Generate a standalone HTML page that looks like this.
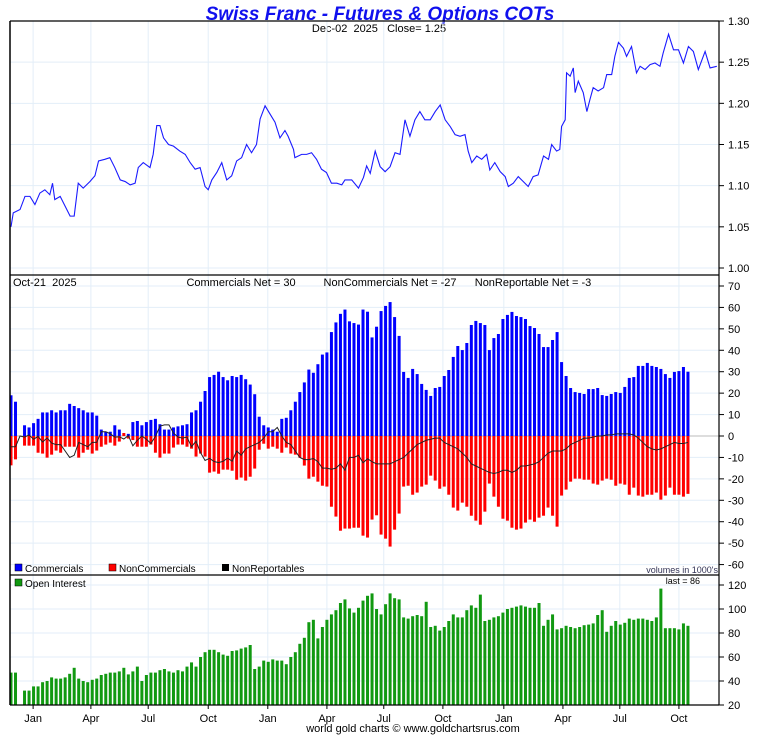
<!DOCTYPE html>
<html><head><meta charset="utf-8">
<style>
html,body{margin:0;padding:0;background:#fff;}
svg{display:block;font-family:"Liberation Sans",Arial,sans-serif;}
svg text{white-space:pre;}
</style></head>
<body>
<svg id="chart" width="760" height="735" viewBox="0 0 760 735" xmlns="http://www.w3.org/2000/svg" xml:space="preserve">
<text x="380" y="20" text-anchor="middle" font-size="19" font-weight="bold" font-style="italic" fill="#1010ee">Swiss Franc - Futures &amp; Options COTs</text>
<text x="379" y="32" text-anchor="middle" font-size="11" fill="#000">Dec-02  2025   Close= 1.25</text>
<g id="grid"></g>
<g id="marks"></g>
<g id="frame"></g>
<text x="13" y="286" font-size="11">Oct-21  2025</text>
<text x="241" y="286" text-anchor="middle" font-size="11">Commercials Net = 30</text>
<text x="390" y="286" text-anchor="middle" font-size="11">NonCommercials Net = -27</text>
<text x="533" y="286" text-anchor="middle" font-size="11">NonReportable Net = -3</text>
<g><rect x="15" y="564" width="7" height="7" fill="#0000ff" stroke="#000" stroke-width="0.5"/><text x="25" y="572" font-size="10">Commercials</text></g>
<g><rect x="109" y="564" width="7" height="7" fill="#ff0000" stroke="#000" stroke-width="0.5"/><text x="119" y="572" font-size="10">NonCommercials</text></g>
<g><rect x="222" y="564" width="7" height="7" fill="#000"/><text x="232" y="572" font-size="10">NonReportables</text></g>
<text x="718" y="573" text-anchor="end" font-size="9" fill="#333355">volumes in 1000's</text>
<g><rect x="15" y="579" width="7" height="7" fill="#119911" stroke="#000" stroke-width="0.5"/><text x="25" y="587" font-size="10">Open Interest</text></g>
<text x="700" y="584" text-anchor="end" font-size="9">last = 86</text>
<text x="413" y="732" text-anchor="middle" font-size="11">world gold charts © www.goldchartsrus.com</text>
</svg>
<script>
const commercials=[19,16,0,5,4,6,8,11,11,12,11,12,12,15,14,13,12,11,11,9.5,3,2,2,5,3,0,1,6.5,7,5,6.5,7.5,8,5.5,3,3,4,4.5,5,5.5,11,12,16,21,27.5,28.5,30,27.5,26,28,27.5,28.5,26.5,24,19.5,9,5,4,3,2,8,8.5,12,16,20.5,25,31,29.5,33.5,38,39,48.5,53,57,59,53.5,52.7,52,59,58,46,51,
58.3,60.7,62.5,55.5,46.7,29.9,27.1,31.3,28.9,24.3,21.5,18.7,22.4,22.9,28,30.8,36.9,42,40.1,43.4,51.8,53.7,52.7,51.8,40.1,45.7,47.6,54.6,56.5,57.9,56,55.5,54.6,51.3,50.4,47.6,41.5,41.5,44.8,48.5,34.5,28,22.4,20.5,20.1,19.6,21.9,21.9,22.4,19.1,18.7,19.6,20.5,20.1,22.9,27.1,27.5,32.7,32.7,34.1,32.7,32.2,31.3,28.9,27.1,29.9,30.3,32.2,30];
const nonCommercials=[-13.7,-10.9,0,-4.5,-4.5,-4.5,-7.8,-8.2,-10.1,-8.7,-6.8,-7.8,-5,-5,-5,-10.1,-7.8,-6.4,-8.2,-6.8,-5,-4,-3.1,-4.5,-2.6,1.4,-1.2,-1.9,-5,-5,-5,-4,-7.8,-10.1,-8.2,-8.2,-5.4,-4,-4,-5,-5.9,-9.6,-8.2,-9.6,-17.1,-16.6,-17.6,-15.7,-15.7,-16.2,-20.4,-19.4,-20.8,-19,-15.2,-6.4,-3.6,-5.9,-5,-5.9,-7.8,-5.4,-8.2,-8.7,-10.1,-13.8,-19.9,-19,-21.3,-23.2,-23.6,-33,-37.6,-44.2,-43.2,-43.2,-42.8,-42.8,-46.5,-47.4,-39,-37,
-46,-47.9,-51.6,-43.7,-36.2,-23.6,-23.2,-27.4,-26.4,-23.6,-22.7,-18.5,-20.8,-24.6,-23.6,-27.4,-33.4,-34.8,-31.1,-33,-37.2,-39.5,-41.4,-35.3,-22.2,-28.3,-33,-38.6,-39.5,-42.8,-43.7,-43.2,-40.4,-39,-40,-38.1,-37.2,-33.4,-37.2,-42.3,-27.8,-25,-21.3,-19.9,-19.9,-20.4,-20.4,-22.2,-22.7,-20.8,-19.9,-20.4,-23.2,-22.2,-22.7,-27.4,-24.1,-27.8,-28.3,-27.4,-27.4,-26.4,-29.7,-27.8,-24.1,-27.4,-27.4,-28.3,-27];
const nonReportables=[-5,-5,0,-0.5,0.5,-1.5,-0.2,-2.8,-0.9,-3.3,-4,-4,-7,-10,-9,-3,-4,-5,-3,-3,2,2,1,-0.5,-0.4,-1.4,0.2,-4.6,-2,0,-1.5,-3.5,-0.2,4.6,5.2,5.2,1.4,-0.5,-1,-0.5,-5,-2.4,-7.8,-11.4,-10.4,-11.9,-12.4,-11.8,-10.3,-11.8,-7,-9,-6,-5,-4,-3,-1,2,2,4,0,-3,-4,-7,-10,-11,-11,-10.5,-12,-15,-15,-15.5,-15,-13,-16,-10,-10,-9,-12.5,-10.6,-12,-13,
-13,-13,-13,-12,-11,-10,-8,-6,-4,-3,-2,-1.5,-1,-1,-3,-4,-5,-6,-8,-10,-13,-14,-15,-16,-17,-17.5,-17,-16,-16,-17,-16,-14,-14,-13.5,-13,-12,-10,-8,-7,-7,-7,-6,-4,-3,-2,-1,-1,-0.5,0,0,0.5,0.5,1,1,1,1,0.5,-1,-3,-5,-6,-6.5,-6,-5,-4,-3,-3.5,-3.5,-3];
const openInterest=[47,47,0,32,32,35.5,35.5,39,40,43,42,42,43,46,51,42,40,39,41,42,45,46,47,47,48,51,45.5,48,52,40,45,47,47,49,50,48,47,49,48,52,55.5,52,60,64,66,66,64,62,61,65,65.5,67,68,70,50,52,57,56,58,57,57,54,60,64,71,76,89,91,75.5,85,91,95.5,99,105,108,100.5,97,101,107,111,113,100,95.5,104,113,109,108,93,92,94,95,94,106,85,86,82,85,90,95.5,93,93,99,103,101,112,90,91,93,94,97,100,101,102,103,102,101,101,105,86,91,95.5,83,84,86,85,84,85,86.5,87,88,95,99,81,86,90,87,88.5,92,91,92,92,91,90,93,117,84,84,84,83,88,86];
const priceWeeks=[0,0.5,2,3.1,4.2,5.3,6.4,7.5,8.6,9.2,9.7,10.9,12,13.1,14,14.9,16,17.5,18.6,19.4,20.8,21.9,23,24.2,25.3,26.4,27.5,28.2,29.3,30.8,31.5,32.3,33,33.8,34.9,36,37.4,38.6,39.7,40.8,41.9,43,43.7,44.5,45.6,46.7,47.8,48.9,50,51.1,52.2,53.3,54.4,55.2,56.3,57.4,58.5,59.6,60.7,61.4,62.6,62.9,64.4,65.5,66.6,67.7,68.8,69.9,71,72.2,73.3,74,75.5,77,78.1,78.8,79.6,80.7,81.8,82.9,84,85.1,86.2,87.3,88.4,89.5,90.6,91.7,92.9,94,95.1,96.2,97.3,98.4,99.5,100.6,101.3,102.1,103.2,104.3,105.4,106.1,107.2,108.4,109.5,110.2,111.3,112.4,113.5,114.6,115.7,116.8,118,119.1,119.8,120.9,121.6,122,122.8,123.1,123.9,124.6,125,125.7,126.8,127.6,128.3,129,130.1,131.3,132,133.1,133.8,134.6,135.7,136.4,137.5,138.6,139.4,140.5,141.6,142.7,143.8,144.5,145.7,146.8,147.9,149,150.1,151.2,152.3,153.8,154.9,156.4];
const priceValues=[1.050,1.067,1.071,1.087,1.087,1.077,1.091,1.095,1.089,1.103,1.083,1.087,1.075,1.063,1.063,1.103,1.097,1.105,1.112,1.130,1.132,1.134,1.122,1.107,1.105,1.101,1.103,1.122,1.128,1.122,1.138,1.173,1.173,1.158,1.150,1.148,1.142,1.138,1.128,1.120,1.122,1.099,1.095,1.107,1.116,1.128,1.107,1.112,1.130,1.134,1.150,1.140,1.150,1.181,1.197,1.187,1.177,1.158,1.167,1.160,1.144,1.134,1.138,1.138,1.140,1.132,1.120,1.116,1.103,1.103,1.101,1.107,1.107,1.097,1.110,1.124,1.115,1.142,1.123,1.117,1.123,1.140,1.138,1.180,1.160,1.180,1.190,1.180,1.180,1.190,1.198,1.180,1.172,1.162,1.160,1.162,1.142,1.128,1.136,1.132,1.138,1.119,1.128,1.117,1.111,1.099,1.103,1.111,1.105,1.099,1.111,1.113,1.136,1.132,1.150,1.142,1.144,1.172,1.180,1.237,1.233,1.243,1.213,1.227,1.213,1.190,1.205,1.219,1.215,1.219,1.235,1.235,1.257,1.274,1.267,1.257,1.269,1.237,1.245,1.241,1.247,1.249,1.245,1.261,1.284,1.265,1.265,1.249,1.269,1.263,1.241,1.263,1.243,1.245];
const monthLabels=["Jan","Apr","Jul","Oct","Jan","Apr","Jul","Oct","Jan","Apr","Jul","Oct"];
const monthWeeks=[4.9,17.7,30.4,43.7,56.9,70,82.6,95.7,109.2,122.3,134.9,148];
const priceTicks=[1.00,1.05,1.10,1.15,1.20,1.25,1.30];
const cotTicks=[70,60,50,40,30,20,10,0,-10,-20,-30,-40,-50,-60];
const oiTicks=[20,40,60,80,100,120];

const NS="http://www.w3.org/2000/svg";
const L=10,R=719;
const xW=w=>11+w*4.513;
const yP=p=>21+(1.30-p)*823.3;
const yC=v=>436-v*2.143;
const yO=v=>705-(v-20)*1.2;
function mk(parent,tag,attrs){const e=document.createElementNS(NS,tag);for(const k in attrs)e.setAttribute(k,attrs[k]);document.getElementById(parent).appendChild(e);return e;}
monthWeeks.forEach((w,i)=>{
 const g=mk('grid','line',{x1:xW(w),x2:xW(w),y1:21,y2:705,stroke:'#e3eef8','stroke-width':1});
 
 
 const t=mk('frame','text',{x:xW(w),y:722,'text-anchor':'middle','font-size':11});
 t.textContent=monthLabels[i];
 
 
 const tk=mk('frame','line',{x1:xW(w),x2:xW(w),y1:705,y2:709,stroke:'#000'});
 
 
});
function yaxis(ticks,fn,fmt,name){ticks.forEach(v=>{
 const y=fn(v);
 const g=mk('grid','line',{x1:L,x2:R,y1:y,y2:y,stroke:'#e3eef8'});
 
 
 const tk=mk('frame','line',{x1:R,x2:R+5,y1:y,y2:y,stroke:'#000'});
 
 
 const t=mk('frame','text',{x:728,y:y+4,'font-size':11});
 t.textContent=fmt(v);
 
 
});}
yaxis(priceTicks,yP,v=>v.toFixed(2),'price-axis');
yaxis(cotTicks,yC,v=>String(v),'cot-axis');
yaxis(oiTicks,yO,v=>String(v),'oi-axis');
const zl=mk('marks','line',{x1:L,x2:R,y1:yC(0),y2:yC(0),stroke:'#bbbbbb'});


commercials.forEach((v,i)=>{
 const x=xW(i)-1.5;
 if(v){const b=mk('marks','rect',{x:x,y:Math.min(yC(v),yC(0)),width:3,height:Math.abs(yC(v)-yC(0)),fill:'#0000ff'});
 
 }
 const n=nonCommercials[i];
 if(n){const r=mk('marks','rect',{x:x,y:Math.min(yC(n),yC(0)),width:3,height:Math.abs(yC(n)-yC(0)),fill:'#ff0000'});
 
 }
});
openInterest.forEach((v,i)=>{
 if(!v)return;
 const b=mk('marks','rect',{x:xW(i)-1.5,y:yO(v),width:3,height:705-yO(v),fill:'#119911'});
 
 
});
const nr=mk('marks','polyline',{points:nonReportables.map((v,i)=>xW(i)+','+yC(v)).join(' '),fill:'none',stroke:'#222','stroke-width':1});


const pl=mk('marks','polyline',{points:priceValues.map((v,i)=>xW(priceWeeks[i])+','+yP(v)).join(' '),fill:'none',stroke:'#1a1aff','stroke-width':1.1});


[[L,21,R,21],[L,21,L,705],[R,21,R,705],[L,705,R,705],[L,275,R,275],[L,575,R,575]].forEach(a=>{
 const f=mk('frame','line',{x1:a[0],y1:a[1],x2:a[2],y2:a[3],stroke:'#000','stroke-width':(a[0]===a[2]&&a[0]===L)?1.5:1.2});
 
 
});
</script>
</body></html>
